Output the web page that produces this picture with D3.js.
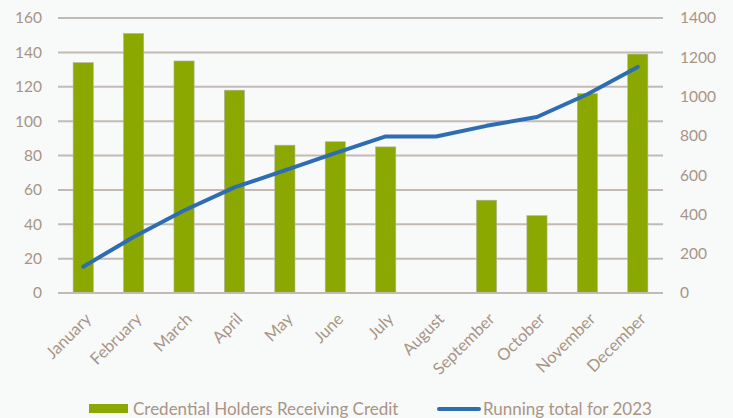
<!DOCTYPE html>
<html><head><meta charset="utf-8">
<script src="https://cdn.jsdelivr.net/npm/d3@7"></script>
<style>
html,body{margin:0;padding:0;background:#f8f9f9;}
svg{display:block;font-family:"Lato","Noto Sans",sans-serif;}
</style></head>
<body>
<svg id="c" width="733" height="418"></svg>
<script>
const months = ["January","February","March","April","May","June","July","August","September","October","November","December"];
const credits = [134,151,135,118,86,88,85,0,54,45,116,139];
const runningTotal = [134,285,420,538,624,712,797,797,851,896,1012,1151];
const leftTicks = [0,20,40,60,80,100,120,140,160];
const rightTicks = [0,200,400,600,800,1000,1200,1400];
const seriesNames = ["Credential Holders Receiving Credit","Running total for 2023"];

(function(){
const svg = d3.select("#c");
const W=733,H=418;
const mL=58,mR=663,mT=18,mB=293;
const txt="#a89585", grid="#c3bbb3", green="#8aa800", blue="#2f6db3";

svg.append("rect").attr("width",W).attr("height",H).attr("fill","#f8f9f9");

const x = d3.scaleBand().domain(months).range([mL,mR]).paddingInner(0.6).paddingOuter(0.3);
const xc = d3.scalePoint().domain(months).range([mL,mR]).padding(0.5);
const yL = d3.scaleLinear().domain([0,160]).range([mB,mT]);
const yR = d3.scaleLinear().domain([0,1400]).range([mB,mT]);

const g = svg.append("g");
g.selectAll("line").data(leftTicks).join("line")
  .attr("x1",mL).attr("x2",mR)
  .attr("y1",d=>yL(d)).attr("y2",d=>yL(d))
  .attr("stroke",grid).attr("stroke-width",2);

const la = svg.append("g").attr("transform",`translate(${mL},0)`)
  .call(d3.axisLeft(yL).tickValues(leftTicks).tickSize(0).tickPadding(16));
la.select(".domain").remove();
la.selectAll("text").attr("fill",txt).style("font-size","15.5px").style("font-family","Lato, 'Noto Sans', sans-serif");

const ra = svg.append("g").attr("transform",`translate(${mR},0)`)
  .call(d3.axisRight(yR).tickValues(rightTicks).tickSize(0).tickPadding(17).tickFormat(d3.format("d")));
ra.select(".domain").remove();
ra.selectAll("text").attr("fill",txt).style("font-size","15.5px").style("font-family","Lato, 'Noto Sans', sans-serif");

svg.append("g").selectAll("rect").data(months).join("rect")
  .attr("x",d=>x(d)).attr("width",x.bandwidth())
  .attr("y",(d,i)=>yL(credits[i])).attr("height",(d,i)=>mB-yL(credits[i]))
  .attr("fill",green).attr("stroke","#b5b0a5").attr("stroke-width",0.6);

svg.append("line").attr("x1",mL).attr("x2",mR).attr("y1",mB).attr("y2",mB)
  .attr("stroke",grid).attr("stroke-width",2);

const line = d3.line().x((d,i)=>xc(months[i])).y(d=>yR(d));
svg.append("path").datum(runningTotal).attr("d",line)
  .attr("fill","none").attr("stroke",blue).attr("stroke-width",4)
  .attr("stroke-linecap","round").attr("stroke-linejoin","round");

svg.append("g").selectAll("text").data(months).join("text")
  .attr("transform",d=>`translate(${xc(d)+5},${mB+23}) rotate(-45)`)
  .attr("text-anchor","end").attr("dy","0.35em")
  .attr("fill",txt).style("font-size","16.5px").text(d=>d);

const lg = svg.append("g");
lg.append("rect").attr("x",89).attr("y",404).attr("width",39).attr("height",9).attr("fill",green);
lg.append("text").attr("x",133).attr("y",409).attr("dy","0.35em").attr("fill",txt).style("font-size","17px").text(seriesNames[0]);
lg.append("line").attr("x1",439).attr("x2",479).attr("y1",409).attr("y2",409).attr("stroke",blue).attr("stroke-width",4).attr("stroke-linecap","round");
lg.append("text").attr("x",483).attr("y",409).attr("dy","0.35em").attr("fill",txt).style("font-size","17px").text(seriesNames[1]);
})();
</script>
</body></html>
